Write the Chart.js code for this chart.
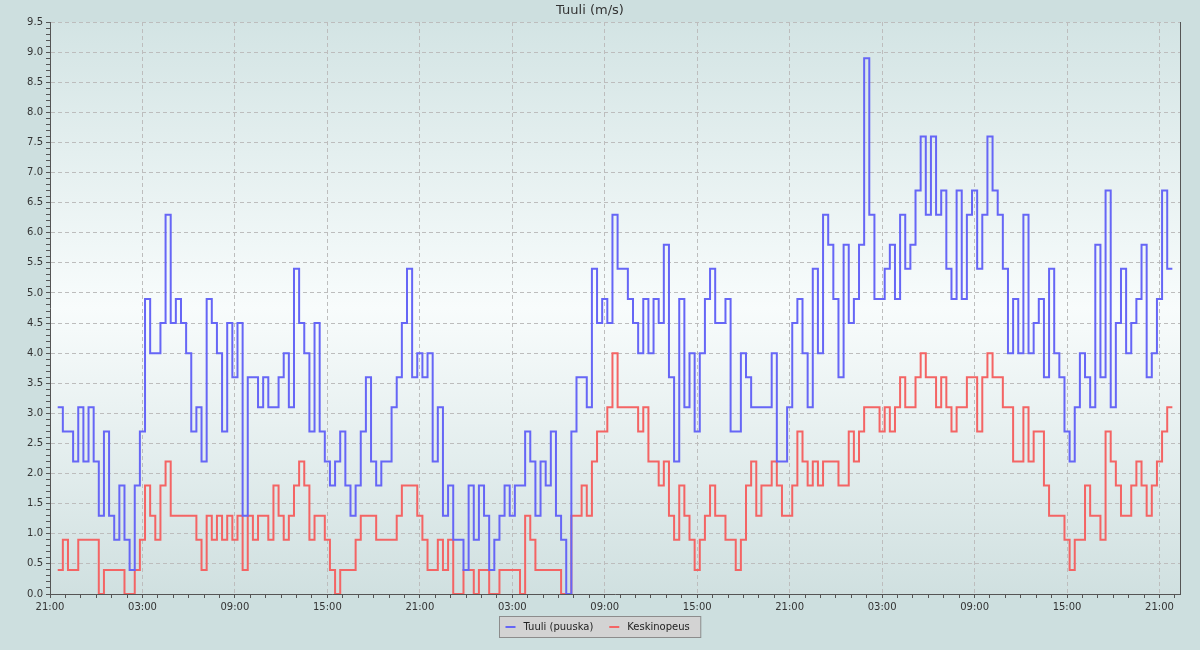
<!DOCTYPE html>
<html>
<head>
<meta charset="utf-8">
<title>Tuuli (m/s)</title>
<script src="https://cdn.jsdelivr.net/npm/chart.js@4.4.1/dist/chart.umd.min.js"></script>
<style>
  html, body { margin: 0; padding: 0; background: #cddfdf; }
  canvas { display: block; }
</style>
</head>
<body>
<canvas id="windChart" width="1200" height="650"></canvas>
<script>
// axis labels, one per 6 hours starting 21:00
const timeLabels = ['21:00', '03:00', '09:00', '15:00', '21:00', '03:00', '09:00',
                    '15:00', '21:00', '03:00', '09:00', '15:00', '21:00'];

// readings every 20 min, first one at 21:30 (hours from the left edge)
const startHour = 0.5;
const stepHours = 1 / 3;

// Tuuli (puuska), m/s
const gust = [
  3.1, 2.7, 2.7, 2.2, 3.1, 2.2, 3.1, 2.2, 1.3, 2.7, 1.3, 0.9, 1.8, 0.9, 0.4, 1.8, 2.7, 4.9, 4.0, 4.0,
  4.5, 6.3, 4.5, 4.9, 4.5, 4.0, 2.7, 3.1, 2.2, 4.9, 4.5, 4.0, 2.7, 4.5, 3.6, 4.5, 1.3, 3.6, 3.6, 3.1,
  3.6, 3.1, 3.1, 3.6, 4.0, 3.1, 5.4, 4.5, 4.0, 2.7, 4.5, 2.7, 2.2, 1.8, 2.2, 2.7, 1.8, 1.3, 1.8, 2.7,
  3.6, 2.2, 1.8, 2.2, 2.2, 3.1, 3.6, 4.5, 5.4, 3.6, 4.0, 3.6, 4.0, 2.2, 3.1, 1.3, 1.8, 0.9, 0.9, 0.4,
  1.8, 0.9, 1.8, 1.3, 0.4, 0.9, 1.3, 1.8, 1.3, 1.8, 1.8, 2.7, 2.2, 1.3, 2.2, 1.8, 2.7, 1.3, 0.9, 0.0,
  2.7, 3.6, 3.6, 3.1, 5.4, 4.5, 4.9, 4.5, 6.3, 5.4, 5.4, 4.9, 4.5, 4.0, 4.9, 4.0, 4.9, 4.5, 5.8, 3.6,
  2.2, 4.9, 3.1, 4.0, 2.7, 4.0, 4.9, 5.4, 4.5, 4.5, 4.9, 2.7, 2.7, 4.0, 3.6, 3.1, 3.1, 3.1, 3.1, 4.0,
  2.2, 2.2, 3.1, 4.5, 4.9, 4.0, 3.1, 5.4, 4.0, 6.3, 5.8, 4.9, 3.6, 5.8, 4.5, 4.9, 5.8, 8.9, 6.3, 4.9,
  4.9, 5.4, 5.8, 4.9, 6.3, 5.4, 5.8, 6.7, 7.6, 6.3, 7.6, 6.3, 6.7, 5.4, 4.9, 6.7, 4.9, 6.3, 6.7, 5.4,
  6.3, 7.6, 6.7, 6.3, 5.4, 4.0, 4.9, 4.0, 6.3, 4.0, 4.5, 4.9, 3.6, 5.4, 4.0, 3.6, 2.7, 2.2, 3.1, 4.0,
  3.6, 3.1, 5.8, 3.6, 6.7, 3.1, 4.5, 5.4, 4.0, 4.5, 4.9, 5.8, 3.6, 4.0, 4.9, 6.7, 5.4
];

// Keskinopeus, m/s
const mean = [
  0.4, 0.9, 0.4, 0.4, 0.9, 0.9, 0.9, 0.9, 0.0, 0.4, 0.4, 0.4, 0.4, 0.0, 0.0, 0.4, 0.9, 1.8, 1.3, 0.9,
  1.8, 2.2, 1.3, 1.3, 1.3, 1.3, 1.3, 0.9, 0.4, 1.3, 0.9, 1.3, 0.9, 1.3, 0.9, 1.3, 0.4, 1.3, 0.9, 1.3,
  1.3, 0.9, 1.8, 1.3, 0.9, 1.3, 1.8, 2.2, 1.8, 0.9, 1.3, 1.3, 0.9, 0.4, 0.0, 0.4, 0.4, 0.4, 0.9, 1.3,
  1.3, 1.3, 0.9, 0.9, 0.9, 0.9, 1.3, 1.8, 1.8, 1.8, 1.3, 0.9, 0.4, 0.4, 0.9, 0.4, 0.9, 0.0, 0.0, 0.4,
  0.4, 0.0, 0.4, 0.4, 0.0, 0.0, 0.4, 0.4, 0.4, 0.4, 0.0, 1.3, 0.9, 0.4, 0.4, 0.4, 0.4, 0.4, 0.0, 0.0,
  1.3, 1.3, 1.8, 1.3, 2.2, 2.7, 2.7, 3.1, 4.0, 3.1, 3.1, 3.1, 3.1, 2.7, 3.1, 2.2, 2.2, 1.8, 2.2, 1.3,
  0.9, 1.8, 1.3, 0.9, 0.4, 0.9, 1.3, 1.8, 1.3, 1.3, 0.9, 0.9, 0.4, 0.9, 1.8, 2.2, 1.3, 1.8, 1.8, 2.2,
  1.8, 1.3, 1.3, 1.8, 2.7, 2.2, 1.8, 2.2, 1.8, 2.2, 2.2, 2.2, 1.8, 1.8, 2.7, 2.2, 2.7, 3.1, 3.1, 3.1,
  2.7, 3.1, 2.7, 3.1, 3.6, 3.1, 3.1, 3.6, 4.0, 3.6, 3.6, 3.1, 3.6, 3.1, 2.7, 3.1, 3.1, 3.6, 3.6, 2.7,
  3.6, 4.0, 3.6, 3.6, 3.1, 3.1, 2.2, 2.2, 3.1, 2.2, 2.7, 2.7, 1.8, 1.3, 1.3, 1.3, 0.9, 0.4, 0.9, 0.9,
  1.8, 1.3, 1.3, 0.9, 2.7, 2.2, 1.8, 1.3, 1.3, 1.8, 2.2, 1.8, 1.3, 1.8, 2.2, 2.7, 3.1
];

const FONT = 'DejaVu Sans';
const TEXT_COLOR = '#333333';
const AXIS_COLOR = '#555555';
const GRID_COLOR = '#bdbdbd';
const GUST_COLOR = '#6666f6';
const MEAN_COLOR = '#f46464';

function toPoints(values) {
  const pts = values.map((v, i) => ({ x: startHour + i * stepHours, y: v }));
  // hold the last reading until the end of its interval
  pts.push({ x: startHour + values.length * stepHours, y: values[values.length - 1] });
  return pts;
}

// page colour, plot gradient, right edge and the boxed legend
const backdrop = {
  id: 'backdrop',
  beforeDraw(chart) {
    const { ctx, chartArea: a } = chart;
    ctx.save();
    ctx.fillStyle = '#cddfdf';
    ctx.fillRect(0, 0, chart.width, chart.height);
    const g = ctx.createLinearGradient(0, a.top, 0, a.bottom);
    g.addColorStop(0, '#d3e4e4');
    g.addColorStop(0.5, '#f8fcfc');
    g.addColorStop(1, '#d0e0e0');
    ctx.fillStyle = g;
    ctx.fillRect(a.left, a.top, a.right - a.left, a.bottom - a.top);
    ctx.restore();
  },
  afterDraw(chart) {
    const { ctx, chartArea: a } = chart;
    ctx.save();
    ctx.strokeStyle = AXIS_COLOR;
    ctx.lineWidth = 1;
    ctx.beginPath();
    ctx.moveTo(Math.round(a.right) + 0.5, a.top);
    ctx.lineTo(Math.round(a.right) + 0.5, a.bottom);
    ctx.stroke();

    // legend
    ctx.font = '10px "' + FONT + '"';
    const items = chart.data.datasets.map(d => ({ text: d.label, color: d.borderColor, w: ctx.measureText(d.label).width }));
    const total = 6 + items.reduce((s, it) => s + 18 + it.w, 0) + 16 * (items.length - 1) + 11;
    const left = Math.round(chart.width / 2 - total / 2) + 0.5;
    const top = chart.height - 34 + 0.5;
    ctx.fillStyle = '#d3d3d3';
    ctx.fillRect(left, top, total, 21);
    ctx.strokeStyle = '#8c8c8c';
    ctx.strokeRect(left, top, total, 21);
    let x = left + 6;
    const mid = top + 10.5;
    ctx.textBaseline = 'middle';
    ctx.textAlign = 'left';
    items.forEach(it => {
      ctx.fillStyle = it.color;
      ctx.fillRect(x, mid - 1, 10, 2);
      ctx.fillStyle = '#222222';
      ctx.fillText(it.text, x + 18, mid);
      x += 18 + it.w + 16;
    });
    ctx.restore();
  }
};

const ctx = document.getElementById('windChart').getContext('2d');
new Chart(ctx, {
  type: 'line',
  data: {
    datasets: [
      {
        label: 'Tuuli (puuska)',
        data: toPoints(gust),
        stepped: true,
        borderColor: GUST_COLOR,
        backgroundColor: GUST_COLOR,
        borderWidth: 2,
        pointRadius: 0,
        fill: false
      },
      {
        label: 'Keskinopeus',
        data: toPoints(mean),
        stepped: true,
        borderColor: MEAN_COLOR,
        backgroundColor: MEAN_COLOR,
        borderWidth: 2,
        pointRadius: 0,
        fill: false
      }
    ]
  },
  options: {
    responsive: false,
    animation: false,
    layout: { padding: { top: 0, left: 0, right: 20, bottom: 36 } },
    plugins: {
      legend: { display: false },
      tooltip: { enabled: false },
      title: {
        display: true,
        text: 'Tuuli (m/s)',
        color: TEXT_COLOR,
        font: { family: FONT, size: 13, weight: 'normal' },
        padding: { top: 3, bottom: 3.4 }
      }
    },
    scales: {
      x: {
        type: 'linear',
        min: 0,
        max: 73.33,
        afterFit(scale) { scale.height = 20; },
        ticks: {
          stepSize: 1,
          autoSkip: false,
          includeBounds: false,
          maxRotation: 0,
          minRotation: 0,
          padding: 3,
          color: TEXT_COLOR,
          font: { family: FONT, size: 10 },
          callback: v => (Number.isInteger(v) && v % 6 === 0 ? timeLabels[v / 6] : '')
        },
        grid: {
          color: c => (c.tick && c.tick.value % 6 === 0 ? GRID_COLOR : 'rgba(0,0,0,0)'),
          tickColor: AXIS_COLOR,
          tickLength: 4
        },
        border: { color: AXIS_COLOR, width: 1, dash: [4, 3] }
      },
      y: {
        min: 0,
        max: 9.5,
        afterFit(scale) { scale.width = 50; },
        ticks: {
          stepSize: 0.1,
          autoSkip: false,
          padding: 3,
          color: TEXT_COLOR,
          font: { family: FONT, size: 10 },
          callback: v => (Math.round(v * 10) % 5 === 0 ? v.toFixed(1) : '')
        },
        grid: {
          color: c => (c.tick && Math.round(c.tick.value * 10) % 5 === 0 ? GRID_COLOR : 'rgba(0,0,0,0)'),
          tickColor: AXIS_COLOR,
          tickLength: 4
        },
        border: { color: AXIS_COLOR, width: 1, dash: [4, 3] }
      }
    }
  },
  plugins: [backdrop]
});
</script>
</body>
</html>
